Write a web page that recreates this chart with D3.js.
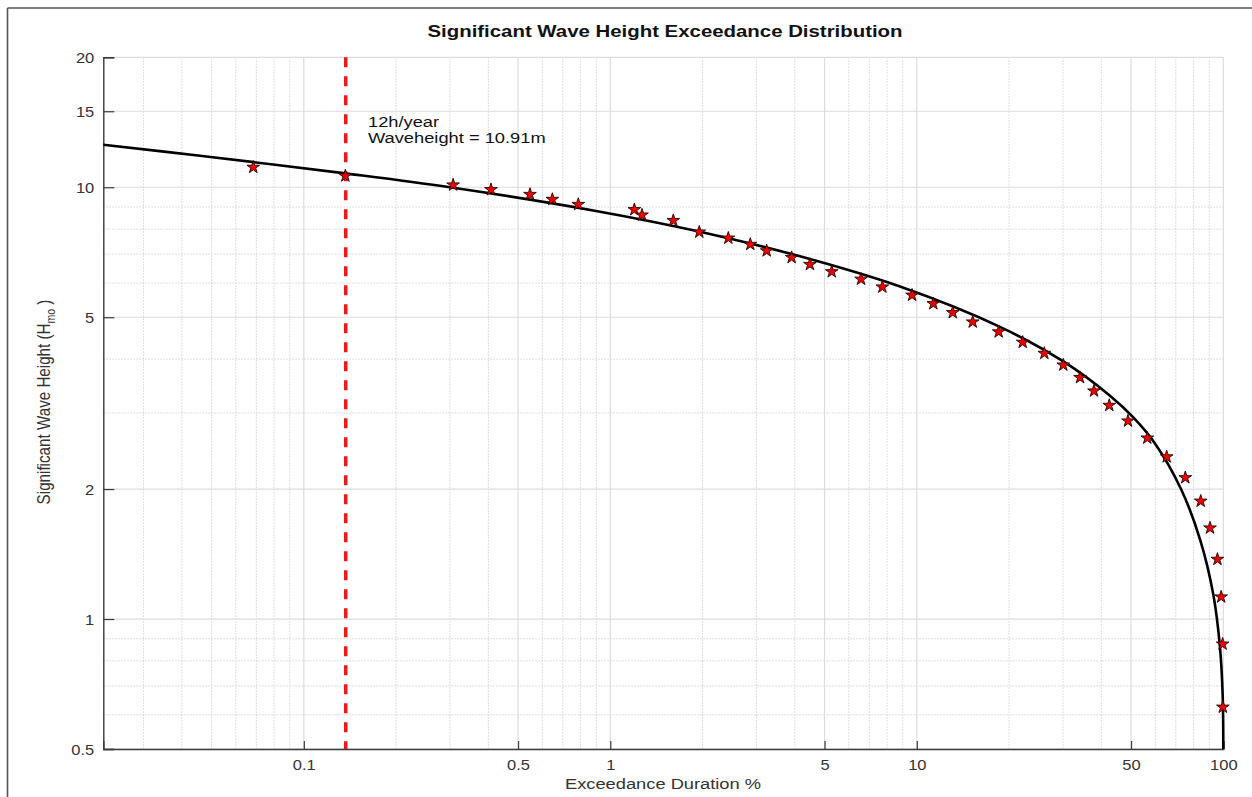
<!DOCTYPE html>
<html>
<head>
<meta charset="utf-8">
<script src="https://cdn.jsdelivr.net/npm/d3@7"></script>
<style>
html,body{margin:0;padding:0;background:#fff;}
svg{display:block;font-family:"Liberation Sans",Arial,Helvetica,sans-serif;}
</style>
</head>
<body>
<svg id="chart" width="1252" height="797"></svg>
<script>
// ---- data ----
const starExceedance = [0.0684,0.1366,0.307,0.408,0.547,0.647,0.786,1.198,1.269,1.605,
  1.951,2.427,2.862,3.237,3.906,4.48,5.278,6.577,7.72,9.65,
  11.32,13.10,15.22,18.50,22.16,26.06,30.06,34.08,37.86,42.46,
  48.87,56.49,65.36,75.16,84.4,90.5,95.7,98.4,99.5,99.7];
const starHeight = [11.125,10.625,10.125,9.875,9.625,9.375,9.125,8.875,8.625,8.375,
  7.875,7.625,7.375,7.125,6.875,6.625,6.375,6.125,5.875,5.625,
  5.375,5.125,4.875,4.625,4.375,4.125,3.875,3.625,3.375,3.125,
  2.875,2.625,2.375,2.125,1.875,1.625,1.375,1.125,0.875,0.625];
const fitExceedance = [0.02217,0.04585,0.1366,0.2999,0.926,1.962,4.157,8.813,18.68,30.06,42.69,50.86,59.86,72.78,83.95,92.77,97.54,99.54,100];
const fitHeight     = [12.55,11.83,10.77,10.0,8.78,7.89,6.92,5.89,4.75,3.95,3.29,2.93,2.55,2.00,1.53,1.14,0.86,0.665,0.5];
const xTickValues = [0.1,0.5,1,5,10,50,100];
const xTickLabels = ["0.1","0.5","1","5","10","50","100"];
const xMinorValues = [0.03,0.04,0.05,0.06,0.07,0.08,0.09,0.2,0.3,0.4,0.6,0.7,0.8,0.9,2,3,4,6,7,8,9,20,30,40,60,70,80,90];
const yTickValues = [0.5,1,2,5,10,15,20];
const yTickLabels = ["0.5","1","2","5","10","15","20"];
const yMinorValues = [0.6,0.7,0.8,0.9,3,4,6,7,8,9];
const xDomain = [0.02217,100];
const yDomain = [0.5,20];
const markerExceedance = 0.137;
const annotationLines = ["12h/year","Waveheight = 10.91m"];
const titleText = "Significant Wave Height Exceedance Distribution";
const xLabelText = "Exceedance Duration %";

// ---- layout ----
const svg = d3.select("#chart");
const L = 103.3, R = 1223.3, T = 57.3, B = 749;
const x = d3.scaleLog().domain(xDomain).range([L, R]);
const y = d3.scaleLog().domain(yDomain).range([B, T]);
const SX = 1.18;

// outer frame (only top & left visible)
svg.append("line").attr("x1",7.5).attr("x2",1252).attr("y1",8).attr("y2",8).attr("stroke","#555").attr("stroke-width",1.6);
svg.append("line").attr("x1",7.5).attr("x2",7.5).attr("y1",8).attr("y2",797).attr("stroke","#555").attr("stroke-width",1.6);

// grid
const grid = svg.append("g");
grid.selectAll(".gxm").data(xMinorValues).join("line")
  .attr("x1",d=>x(d)).attr("x2",d=>x(d)).attr("y1",T).attr("y2",B)
  .attr("stroke","#d4d4d4").attr("stroke-width",1).attr("stroke-dasharray","1.5,1.5");
grid.selectAll(".gym").data(yMinorValues).join("line")
  .attr("y1",d=>y(d)).attr("y2",d=>y(d)).attr("x1",L).attr("x2",R)
  .attr("stroke","#d4d4d4").attr("stroke-width",1).attr("stroke-dasharray","1.5,1.5");
grid.selectAll(".gx").data(xTickValues).join("line")
  .attr("x1",d=>x(d)).attr("x2",d=>x(d)).attr("y1",T).attr("y2",B)
  .attr("stroke","#dcdcdc").attr("stroke-width",1.2);
grid.selectAll(".gy").data(yTickValues).join("line")
  .attr("y1",d=>y(d)).attr("y2",d=>y(d)).attr("x1",L).attr("x2",R)
  .attr("stroke","#dcdcdc").attr("stroke-width",1.2);

// axes
const axisColor = "#3a3a3a";
const xAxisG = svg.append("g").attr("transform",`translate(0,${B})`);
xAxisG.call(d3.axisBottom(x).tickValues(xMinorValues).tickSize(-4).tickFormat(""));
xAxisG.call(d3.axisBottom(x).tickValues(xTickValues).tickSize(-8).tickPadding(0)
  .tickFormat((d,i)=>xTickLabels[i]));
const yAxisG = svg.append("g").attr("transform",`translate(${L},0)`);
yAxisG.call(d3.axisLeft(y).tickValues(yMinorValues).tickSize(-6).tickFormat(""));
yAxisG.call(d3.axisLeft(y).tickValues(yTickValues).tickSize(-11).tickPadding(0)
  .tickFormat((d,i)=>yTickLabels[i]));
[xAxisG,yAxisG].forEach(g=>{
  g.selectAll(".domain").attr("stroke",axisColor).attr("stroke-width",1.4);
  g.selectAll(".tick line").attr("stroke",axisColor).attr("stroke-width",1.2);
  g.selectAll(".tick text").attr("fill","#333").attr("font-size",14)
    .attr("font-family","'Liberation Sans',Arial,Helvetica,sans-serif");
});
xAxisG.selectAll(".tick text").attr("y",0).attr("dy",0)
  .attr("transform",`translate(0,20.5) scale(${SX},1)`);
yAxisG.selectAll(".tick text").attr("x",0).attr("dy","0.36em")
  .attr("transform",`translate(-9,0) scale(${SX},1)`);

// red dashed marker line
svg.append("line").attr("x1",x(markerExceedance)).attr("x2",x(markerExceedance))
  .attr("y1",T).attr("y2",B).attr("stroke","#f01818").attr("stroke-width",3.5)
  .attr("stroke-dasharray","10,9");

// fitted curve
const fit = fitExceedance.map((v,i)=>[v,fitHeight[i]]);
svg.append("path").datum(fit)
  .attr("d",d3.line().x(d=>x(d[0])).y(d=>y(d[1])).curve(d3.curveCatmullRom.alpha(0.5)))
  .attr("fill","none").attr("stroke","#000").attr("stroke-width",2.6);

// stars
const star = d3.symbol().type(d3.symbolStar).size(50);
svg.append("g").selectAll("path").data(starExceedance.map((v,i)=>[v,starHeight[i]])).join("path")
  .attr("d",star)
  .attr("transform",d=>`translate(${x(d[0])},${y(d[1])})`)
  .attr("fill","#ee0000").attr("stroke","#2a0000").attr("stroke-width",0.9);

// annotation
const ann = svg.append("g").attr("transform",`translate(368,0)`);
annotationLines.forEach((t,i)=>{
  ann.append("text").attr("transform",`translate(0,${126.5+i*16.5}) scale(${SX},1)`)
    .attr("font-size",15.5).attr("fill","#111").text(t);
});

// title
svg.append("text").attr("transform",`translate(665,37) scale(1.2,1)`)
  .attr("text-anchor","middle").attr("font-size",17).attr("font-weight","bold")
  .attr("fill","#111").text(titleText);

// x label
svg.append("text").attr("transform",`translate(663,788.5) scale(${SX},1)`)
  .attr("text-anchor","middle").attr("font-size",15.5).attr("fill","#333").text(xLabelText);

// y label with subscript
const yl = svg.append("text").attr("transform",`translate(50,402) scale(${SX},1) rotate(-90)`)
  .attr("text-anchor","middle").attr("font-size",15.2).attr("fill","#333");
yl.append("tspan").text("Significant Wave Height (H");
yl.append("tspan").attr("font-size",10.5).attr("dy",4).text("mo");
yl.append("tspan").attr("dy",-4).text(" )");
</script>
</body>
</html>
